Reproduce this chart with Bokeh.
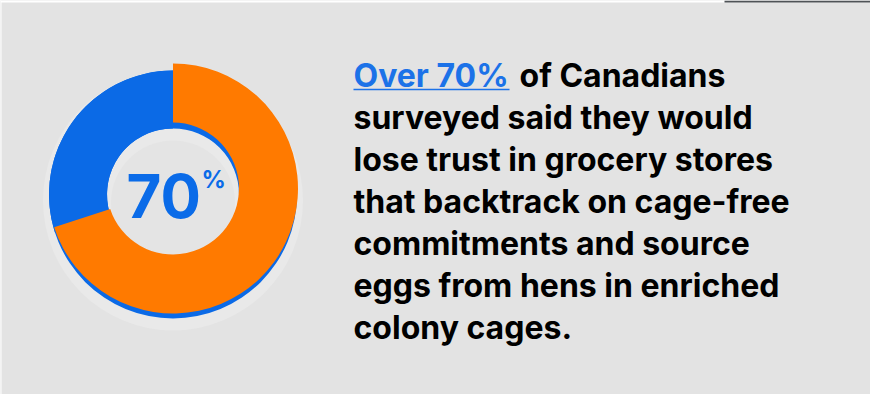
import numpy as np
from bokeh.plotting import figure
from bokeh.models import Range1d
from bokeh.core.properties import value
from bokeh.embed import file_html
from bokeh.resources import INLINE

# ---- data ----
shares = [70, 30]                      # percent: lose trust / other
share_colors = ["#FF7A00", "#0B6AE6"]
center_label = "70"
center_sup = "%"
headline_highlight = "Over 70%"
headline_rest = "of Canadians"
body_lines = [
    "surveyed said they would",
    "lose trust in grocery stores",
    "that backtrack on cage-free",
    "commitments and source",
    "eggs from hens in enriched",
    "colony cages.",
]

W, H = 870, 394
FONT = "Inter"
def Y(py):
    return H - py

def baseline(py, size):
    # compensate the svg text baseline offset
    return Y(py - 0.36 * size)

p = figure(width=W, height=H, output_backend="svg", toolbar_location=None,
           x_range=Range1d(0, W), y_range=Range1d(0, H),
           x_axis_type=None, y_axis_type=None, min_border=0)
p.grid.visible = False
p.outline_line_color = None
p.background_fill_color = "#E3E3E3"
p.border_fill_color = "#FFFFFF"

# frame edges of the card
p.quad(left=[0], right=[W], bottom=[Y(2)], top=[Y(0)], fill_color="#FFFFFF", line_color=None)
p.quad(left=[0], right=[1], bottom=[Y(H)], top=[Y(0)], fill_color="#FFFFFF", line_color=None)
p.quad(left=[724], right=[W], bottom=[Y(2)], top=[Y(0)], fill_color="#4F5357", line_color=None)

# ---- donut ----
cx, cy = 172.5, 188
r_out, r_in = 125, 66
drop = 6

p.circle(x=[cx], y=[Y(cy + 12)], radius=130, fill_color="#E9E9E9", line_color=None)
p.annulus(x=[cx], y=[Y(cy + drop)], inner_radius=r_in, outer_radius=r_out - 1,
          fill_color=share_colors[1], line_color=None)
p.circle(x=[cx], y=[Y(cy + 14)], radius=62, fill_color="#E4E4E4", line_color=None)

total = float(sum(shares))
start = np.pi / 2
angles = []
for s in shares:
    end = start - 2 * np.pi * s / total
    angles.append((start, end))
    start = end

(b_s, b_e) = angles[1]
p.annular_wedge(x=[cx], y=[Y(cy + drop)], inner_radius=r_in, outer_radius=r_out - 1,
                start_angle=[b_s], end_angle=[b_e], direction="clock",
                fill_color=share_colors[1], line_color=None)
(o_s, o_e) = angles[0]
p.annular_wedge(x=[cx], y=[Y(cy)], inner_radius=r_in, outer_radius=r_out,
                start_angle=[o_s], end_angle=[o_e], direction="clock",
                fill_color=share_colors[0], line_color=None)

# center label
p.text(x=[126], y=[baseline(217, 60)], text=[center_label], text_font=value(FONT),
       text_font_style="bold", text_font_size="60px", text_color="#0A6BE8",
       text_baseline="alphabetic", text_align="left")
p.text(x=[201], y=[baseline(188, 24)], text=[center_sup], text_font=value(FONT),
       text_font_style="bold", text_font_size="24px", text_color="#0A6BE8",
       text_baseline="alphabetic", text_align="left")

# ---- text block ----
size = 32
fs = f"{size}px"
tx = 353
base0 = 87
step = 42
p.text(x=[tx], y=[baseline(base0, size)], text=[headline_highlight], text_font=value(FONT),
       text_font_style="bold", text_font_size=fs, text_color="#1C72E8",
       text_baseline="alphabetic")
p.segment(x0=[tx], x1=[509], y0=[Y(base0 + 2)], y1=[Y(base0 + 2)],
          line_color="#1C72E8", line_width=1.5)
p.text(x=[519], y=[baseline(base0, size)], text=[headline_rest], text_font=value(FONT),
       text_font_style="bold", text_font_size=fs, text_color="#000000",
       text_baseline="alphabetic")
ys = [baseline(base0 + step * (i + 1), size) for i in range(len(body_lines))]
p.text(x=[tx] * len(body_lines), y=ys, text=body_lines, text_font=value(FONT),
       text_font_style="bold", text_font_size=fs, text_color="#000000",
       text_baseline="alphabetic")

open("out.html", "w").write(file_html(p, INLINE))
